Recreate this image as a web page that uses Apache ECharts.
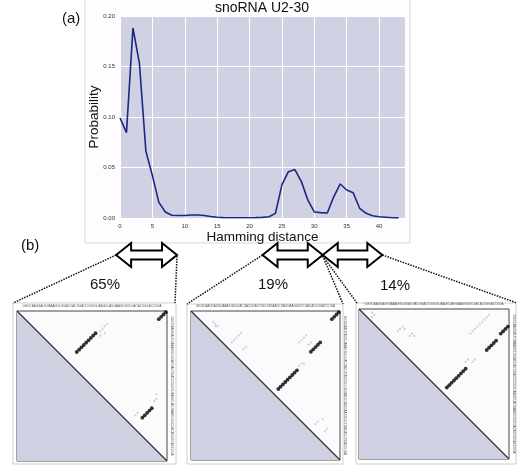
<!DOCTYPE html>
<html><head><meta charset="utf-8">
<script src="https://cdn.jsdelivr.net/npm/echarts@6/dist/echarts.min.js"></script>
<style>html,body{margin:0;padding:0;background:#fff}#c{width:517px;height:465px}</style>
</head><body><div id="c"></div>
<script>
// ---- data (a) ----
const hamming = [0,1,2,3,4,5,6,7,8,9,10,11,12,13,14,15,16,17,18,19,20,21,22,23,24,25,26,27,28,29,30,31,32,33,34,35,36,37,38,39,40,41,42,43];
const probability = [0.099,0.0845,0.188,0.153,0.066,0.042,0.0155,0.006,0.0027,0.0025,0.0025,0.003,0.003,0.0025,0.0015,0.0008,0.0004,0.0003,0.0003,0.0003,0.0003,0.0004,0.0006,0.0012,0.0046,0.033,0.0459,0.048,0.036,0.0178,0.006,0.0053,0.005,0.021,0.0337,0.0277,0.025,0.0096,0.0046,0.0023,0.0013,0.0008,0.0003,0.0001];
const title = 'snoRNA U2-30';
const xName = 'Hamming distance';
const yName = 'Probability';
// ---- data (b) ----
const clusterRanges = [[-0.6, 8.8], [22.0, 31.3], [31.3, 40.5]];
const clusterShares = ['65%', '19%', '14%'];
const seqLen = 64;
const sequence = 'GGGCAAUGAUGUAAAGGUUUACGACUGACCGUUGUAAGCUAGGAAGGUUCGACACUGGACCUGA';
const panel1Strong = [[60,3],[61,2],[62,1],[63,0],[33,9],[32,10],[31,11],[30,12],[29,13],[28,14],[27,15],[26,16],[25,17],[57,41],[56,42],[55,43],[54,44],[53,45]];
const panel1Faint = [[35,8],[36,7],[37,6],[38,5],[35,10],[37,9],[50,44],[51,43],[58,38],[59,37],[59,35]];
const panel2Strong = [[60,3],[61,2],[62,1],[63,0],[51,17],[52,16],[53,15],[54,14],[55,13],[37,33],[38,32],[39,31],[40,30],[41,29],[42,28],[43,27],[44,26],[45,25]];
const panel2Faint = [[9,4],[10,5],[11,6],[10,6],[17,13],[18,12],[19,11],[20,10],[21,9],[22,16],[23,15],[46,13],[47,12],[48,11],[49,10],[50,14],[51,13],[46,23],[47,22],[48,22],[53,48],[54,47],[57,51],[58,50],[56,46]];
const panel3Strong = [[60,10],[61,9],[62,8],[63,7],[54,17],[55,16],[56,15],[57,14],[58,13],[37,33],[38,32],[39,31],[40,30],[41,29],[42,28],[43,27],[44,26],[45,25]];
const panel3Faint = [[5,3],[6,2],[5,1],[16,9],[17,8],[18,7],[19,8],[21,11],[22,10],[23,11],[47,10],[48,9],[49,8],[50,7],[51,6],[52,5],[53,4],[54,3],[55,2],[45,22],[46,21],[48,22],[49,21]];

const FONT = 'Liberation Sans, Arial, sans-serif';
const chart = echarts.init(document.getElementById('c'), null, {renderer:'canvas'});

const panels = [
  {left:17, top:311, size:150, strong:panel1Strong, faint:panel1Faint, box:[13,303,163,161]},
  {left:191, top:311, size:149, strong:panel2Strong, faint:panel2Faint, box:[187,304,156,160]},
  {left:359, top:309, size:150, strong:panel3Strong, faint:panel3Faint, box:[356,303,160,161]}
];

const grids = [{left:120, top:16, width:285, height:202, show:true, backgroundColor:'#d0d1e3', borderWidth:0}];
const xAxes = [{type:'value', gridIndex:0, min:0, max:44, interval:5,
  name:xName, nameLocation:'middle', nameGap:12, nameMoveOverlap:false, nameTextStyle:{fontSize:13.5, color:'#111', fontFamily:FONT},
  axisLine:{show:false}, axisTick:{show:false},
  axisLabel:{fontSize:6, color:'#333', margin:5, showMaxLabel:false, fontFamily:FONT},
  splitLine:{show:true, lineStyle:{color:'#ffffff', width:1}}}];
const yAxes = [{type:'value', gridIndex:0, min:0, max:0.2, interval:0.05,
  name:yName, nameLocation:'middle', nameGap:19, nameMoveOverlap:false, nameTextStyle:{fontSize:13.5, color:'#111', fontFamily:FONT},
  axisLine:{show:false}, axisTick:{show:false},
  axisLabel:{fontSize:6, color:'#333', margin:5, formatter:v=>v.toFixed(2), fontFamily:FONT},
  splitLine:{show:true, lineStyle:{color:'#ffffff', width:1}}}];
const series = [{type:'line', xAxisIndex:0, yAxisIndex:0, data:hamming.map((h,i)=>[h, probability[i]]),
  symbol:'none', lineStyle:{color:'#1c2784', width:1.6}, z:3}];

panels.forEach((p, k) => {
  const gi = k + 1;
  grids.push({left:p.left, top:p.top, width:p.size, height:p.size, show:true, backgroundColor:'#fdfafd', borderColor:'#444', borderWidth:1, z:3});
  xAxes.push({type:'value', gridIndex:gi, min:0, max:seqLen, show:false});
  yAxes.push({type:'value', gridIndex:gi, min:0, max:seqLen, inverse:true, show:false});
  series.push({type:'line', xAxisIndex:gi, yAxisIndex:gi, data:[[0,0],[seqLen,seqLen]], symbol:'none',
    lineStyle:{color:'#333', width:1.2}, areaStyle:{origin:'end', color:'#cfd0e2', opacity:1}, z:3});
  series.push({type:'scatter', xAxisIndex:gi, yAxisIndex:gi, data:p.faint.map(d=>[d[0]+0.5, d[1]+0.5]),
    symbol:'rect', symbolSize:2, itemStyle:{color:'#c8c8c8'}, z:4});
  series.push({type:'scatter', xAxisIndex:gi, yAxisIndex:gi, data:p.strong.map(d=>[d[0]+0.5, d[1]+0.5]),
    symbolSize:3.8, itemStyle:{color:'#000'}, z:5});
});

chart.setOption({animation:false, grid:grids, xAxis:xAxes, yAxis:yAxes, series:series});

// annotations
const g = [];
g.push({type:'rect', shape:{x:85, y:-2, width:325, height:245}, style:{fill:'#fefcfe', stroke:'#d9d9d9', lineWidth:1}, z:-10});
g.push({type:'text', x:262, y:8, style:{text:title, font:'14px '+FONT, fill:'#111', textAlign:'center', textVerticalAlign:'middle'}});
g.push({type:'text', x:62, y:19, style:{text:'(a)', font:'15px '+FONT, fill:'#111', textAlign:'left', textVerticalAlign:'middle'}});
g.push({type:'text', x:21, y:246, style:{text:'(b)', font:'15px '+FONT, fill:'#111', textAlign:'left', textVerticalAlign:'middle'}});

const cy = 255;
const px = v => chart.convertToPixel({xAxisIndex:0}, v);
clusterRanges.forEach(r => {
  const a = px(r[0]), b = px(r[1]), h = 15, hh = 12, sh = 4.5;
  g.push({type:'polygon', shape:{points:[[a,cy],[a+h,cy-hh],[a+h,cy-sh],[b-h,cy-sh],[b-h,cy-hh],[b,cy],[b-h,cy+hh],[b-h,cy+sh],[a+h,cy+sh],[a+h,cy+hh]]},
    style:{fill:'#fff', stroke:'#000', lineWidth:2}, z:10});
});
const pctPos = [[105,285],[273,285],[395,286]];
clusterShares.forEach((s,i) => {
  g.push({type:'text', x:pctPos[i][0], y:pctPos[i][1], style:{text:s, font:'15px '+FONT, fill:'#111', textAlign:'center', textVerticalAlign:'middle'}});
});
const r0 = clusterRanges;
const dots = [
  [[px(r0[0][0]),cy],[panels[0].box[0],panels[0].box[1]]],
  [[px(r0[0][1]),cy+1],[panels[0].box[0]+panels[0].box[2]-1,panels[0].box[1]]],
  [[px(r0[1][0]),cy],[panels[1].box[0],panels[1].box[1]]],
  [[px(r0[1][1]),cy+1],[panels[1].box[0]+panels[1].box[2],panels[1].box[1]]],
  [[px(r0[2][0]),cy+1],[panels[2].box[0]+1,panels[2].box[1]]],
  [[px(r0[2][1]),cy],[panels[2].box[0]+panels[2].box[2]+1,panels[2].box[1]]]
];
dots.forEach(d => g.push({type:'line', shape:{x1:d[0][0], y1:d[0][1], x2:d[1][0], y2:d[1][1]}, style:{stroke:'#111', lineWidth:1.5, lineDash:[1.5,1.2]}, z:9}));

panels.forEach(p => {
  g.push({type:'rect', shape:{x:p.box[0], y:p.box[1], width:p.box[2], height:p.box[3]}, style:{fill:'#fff', stroke:'#cfcfcf', lineWidth:1}, z:-5});
  g.push({type:'text', x:p.left + p.size/2, y:p.top - 4.5,
    style:{text:sequence, font:'3px '+FONT, fill:'#555', textAlign:'center', textVerticalAlign:'middle'}, z:6});
  g.push({type:'text', x:p.left + p.size + 4.5, y:p.top + p.size/2, rotation:-Math.PI/2,
    style:{text:sequence, font:'3px '+FONT, fill:'#555', textAlign:'center', textVerticalAlign:'middle'}, z:6});
});

chart.setOption({graphic:{elements:g}});
</script></body></html>
